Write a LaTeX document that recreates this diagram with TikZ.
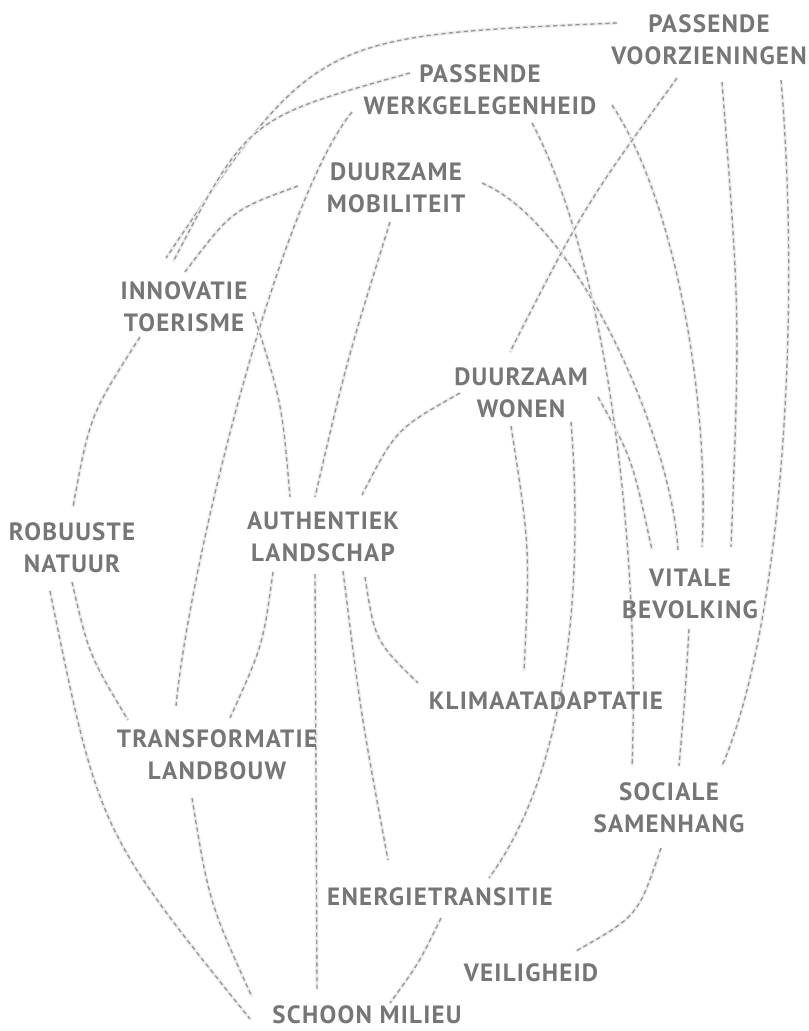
\documentclass[tikz,border=0pt]{standalone}
\usepackage{fontspec}
\setmainfont{PT Sans}[LetterSpace=5]
\usetikzlibrary{calc,backgrounds}
\definecolor{labelgray}{RGB}{118,118,118}
\definecolor{linkgray}{RGB}{150,150,150}
\definecolor{halogray}{RGB}{238,238,238}
\tikzset{
  theme/.style={font=\fontsize{18.75}{24}\selectfont\bfseries, text=labelgray, align=center, inner sep=0pt},
  link/.style={linkgray, line width=1pt, dash pattern=on 3.2pt off 2.4pt,
    preaction={draw=halogray, line width=2.6pt, solid}},
}

\begin{document}
\begin{tikzpicture}[x=0.75pt,y=-0.75pt]
\useasboundingbox (0,0) rectangle (808,1031);

% themes
\node[theme] (pv) at (709,40) {PASSENDE\\VOORZIENINGEN};
\node[theme] (pw) at (480,90) {PASSENDE\\WERKGELEGENHEID};
\node[theme] (dm) at (396,188) {DUURZAME\\MOBILITEIT};
\node[theme] (inn) at (184,307) {INNOVATIE\\TOERISME};
\node[theme] (dw) at (521,393) {DUURZAAM\\WONEN};
\node[theme] (rn) at (72,548) {ROBUUSTE\\NATUUR};
\node[theme] (al) at (323,537) {AUTHENTIEK\\LANDSCHAP};
\node[theme] (vb) at (690,594) {VITALE\\BEVOLKING};
\node[theme] (ka) at (546,701) {KLIMAATADAPTATIE};
\node[theme] (tl) at (217,755) {TRANSFORMATIE\\LANDBOUW};
\node[theme] (ss) at (669,808) {SOCIALE\\SAMENHANG};
\node[theme] (et) at (440,897) {ENERGIETRANSITIE};
\node[theme] (ve) at (531,973) {VEILIGHEID};
\node[theme] (sm) at (367,1015) {SCHOON MILIEU};

% links
\begin{scope}[on background layer]
\draw[link] ($(pv)+(-92,-17)$) .. controls (316,36) .. ($(inn)+(-18,-49)$);
\draw[link] ($(pw)+(-70,-17)$) .. controls (248,118) .. ($(inn)+(-11,-45)$);
\draw[link] ($(dm)+(-98,-2)$) .. controls (232,210) .. ($(inn)+(1,-35)$);
\draw[link] ($(pw)+(-128,22)$) .. controls (280,200) and (190,560) .. ($(tl)+(-41,-49)$);
\draw[link] ($(inn)+(69,5)$) .. controls (282,403) .. ($(al)+(-33,-40)$);
\draw[link] ($(dm)+(-6,34)$) .. controls (347,360) .. ($(al)+(-8,-40)$);
\draw[link] ($(dw)+(-61,0)$) .. controls (396,429) .. ($(al)+(39,-42)$);
\draw[link] ($(inn)+(-44,30)$) .. controls (90,415) .. ($(rn)+(1,-41)$);
\draw[link] ($(rn)+(0,34)$) .. controls (89,655) .. ($(tl)+(-89,-35)$);
\draw[link] ($(rn)+(-22,43)$) .. controls (99,831) .. ($(sm)+(-117,4)$);
\draw[link] ($(tl)+(-25,43)$) .. controls (209,902) .. ($(sm)+(-115,-18)$);
\draw[link] ($(al)+(-50,35)$) .. controls (263,645) .. ($(tl)+(13,-37)$);
\draw[link] ($(al)+(-8,37)$) -- ($(sm)+(-50,-26)$);
\draw[link] ($(al)+(20,34)$) .. controls (361,715) .. ($(et)+(-52,-37)$);
\draw[link] ($(al)+(42,40)$) .. controls (375,641) .. ($(ka)+(-128,-18)$);
\draw[link] ($(dw)+(-10,33)$) .. controls (530,548) .. ($(ka)+(-22,-30)$);
\draw[link] ($(dw)+(50,29)$) .. controls (582,560) and (575,760) .. ($(et)+(49,-19)$);
\draw[link] ($(dw)+(77,4)$) .. controls (632,458) .. ($(vb)+(-38,-44)$);
\draw[link] ($(pw)+(52,33)$) .. controls (610,270) and (640,560) .. ($(ss)+(-37,-42)$);
\draw[link] ($(dm)+(86,-5)$) .. controls (580,225) and (672,440) .. ($(vb)+(-12,-44)$);
\draw[link] ($(pw)+(132,15)$) .. controls (675,200) and (710,400) .. ($(vb)+(12,-47)$);
\draw[link] ($(pv)+(-32,38)$) .. controls (585,205) .. ($(dw)+(-11,-41)$);
\draw[link] ($(pv)+(13,42)$) .. controls (740,315) .. ($(vb)+(41,-47)$);
\draw[link] ($(pv)+(72,40)$) .. controls (800,300) and (785,620) .. ($(ss)+(53,-42)$);
\draw[link] ($(vb)+(-1,35)$) .. controls (685,697) .. ($(ss)+(10,-42)$);
\draw[link] ($(ss)+(-8,40)$) .. controls (638,916) .. ($(ve)+(45,-22)$);
\draw[link] ($(et)+(1,21)$) .. controls (419,963) .. ($(sm)+(23,-12)$);
\end{scope}
\end{tikzpicture}
\end{document}
